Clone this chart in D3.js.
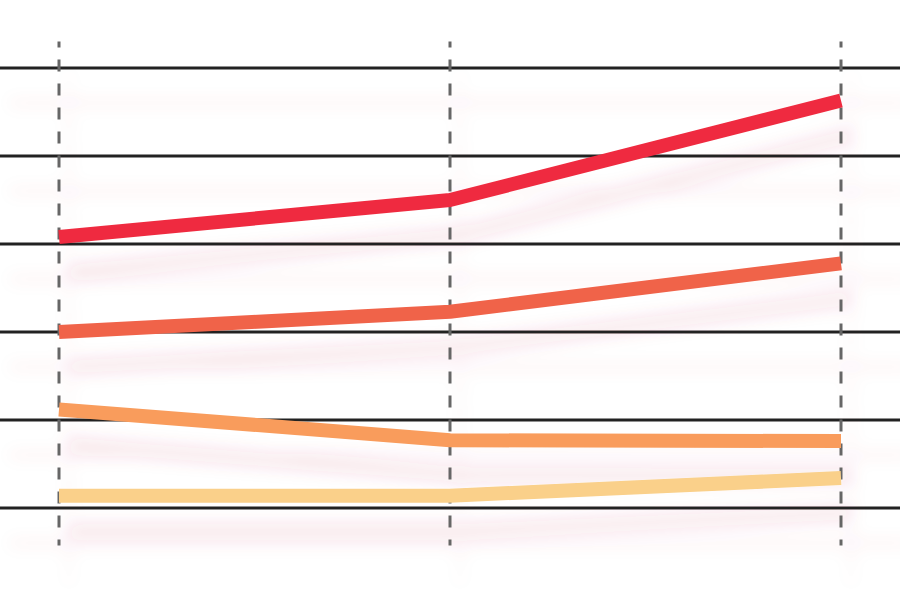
<!DOCTYPE html>
<html>
<head>
<meta charset="utf-8">
<script src="https://cdn.jsdelivr.net/npm/d3@7"></script>
<style>
  body { margin: 0; background: #fff; }
  svg { display: block; }
</style>
</head>
<body>
<div id="chart"></div>
<script>
// Data
const categories = ["A", "B", "C"];
const gridValues = [0, 10, 20, 30, 40, 50];
const seriesNames = ["s1", "s2", "s3", "s4"];
const seriesValues = [
    [30.8, 35.0, 46.3],
    [20.0, 22.3, 27.8],
    [11.2, 7.7, 7.6],
    [1.4, 1.4, 3.4]
];
const seriesColors = ["#ef2b3f", "#f0634a", "#f99c5c", "#fad08a"];

const width = 900;
const height = 590;

const svg = d3.select("#chart")
    .append("svg")
    .attr("width", width)
    .attr("height", height);

// Soft pink drop shadow under everything
const defs = svg.append("defs");
const filter = defs.append("filter")
    .attr("id", "shadow")
    .attr("filterUnits", "userSpaceOnUse")
    .attr("x", 0).attr("y", 0)
    .attr("width", width).attr("height", height);
filter.append("feDropShadow")
    .attr("dx", 10)
    .attr("dy", 35)
    .attr("stdDeviation", 8)
    .attr("flood-color", "#c8375a")
    .attr("flood-opacity", 0.12);

const xScale = d3.scalePoint()
    .domain(categories)
    .range([59, 841]);

const yScale = d3.scaleLinear()
    .domain([0, 50])
    .range([508, 68]);

const g = svg.append("g").attr("filter", "url(#shadow)");

// Horizontal grid lines
g.append("g")
    .selectAll("line")
    .data(gridValues)
    .enter().append("line")
    .attr("x1", 0)
    .attr("x2", width)
    .attr("y1", d => yScale(d))
    .attr("y2", d => yScale(d))
    .attr("stroke", "#222")
    .attr("stroke-width", 3);

// Vertical dashed lines
g.append("g")
    .selectAll("line")
    .data(categories)
    .enter().append("line")
    .attr("x1", d => xScale(d))
    .attr("x2", d => xScale(d))
    .attr("y1", 41.5)
    .attr("y2", 545.5)
    .attr("stroke", "#666")
    .attr("stroke-width", 3)
    .attr("stroke-dasharray", "12,12")
    .attr("stroke-dashoffset", 6);

// Series lines
const line = d3.line()
    .x((d, i) => xScale(categories[i]))
    .y(d => yScale(d));

g.append("g")
    .selectAll("path")
    .data(seriesValues)
    .enter().append("path")
    .attr("d", line)
    .attr("fill", "none")
    .attr("stroke", (d, i) => seriesColors[i])
    .attr("stroke-width", 14)
    .attr("stroke-linejoin", "round");
</script>
</body>
</html>
